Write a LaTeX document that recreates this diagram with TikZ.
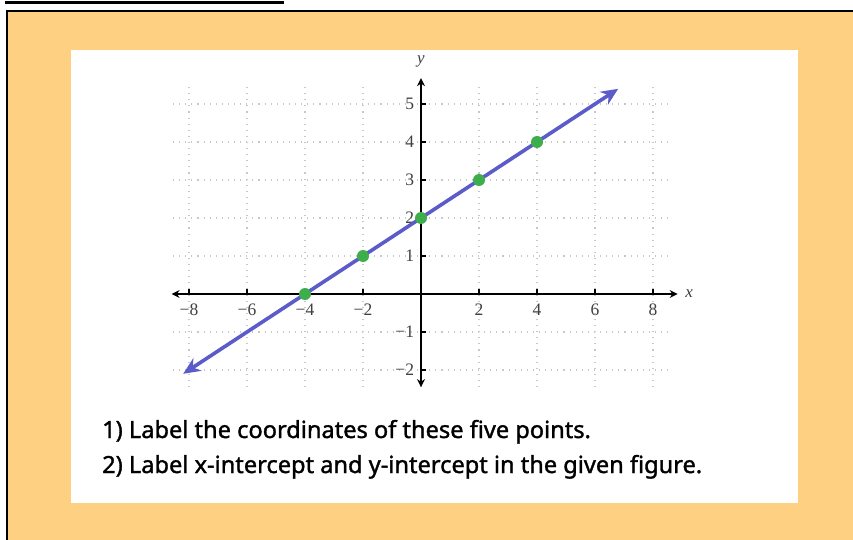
\documentclass[tikz,border=0pt]{standalone}
\usepackage{fontspec}
\setmainfont{Liberation Serif}
\newfontfamily\notefont[FakeBold=1.4]{Noto Sans}
\usetikzlibrary{arrows.meta}

\definecolor{paper}{HTML}{FED182}
\definecolor{lineblue}{HTML}{5B5BC9}
\definecolor{dotgreen}{HTML}{3EAE4C}
\definecolor{gridgray}{HTML}{C8C8C8}

\tikzset{
  gridline/.style={gridgray, line width=1.1pt, dash pattern=on 1.1pt off 5pt},
  axisline/.style={line width=1.8pt, {Stealth[length=8pt,width=8pt]}-{Stealth[length=8pt,width=8pt]}},
  tickmark/.style={line width=1.5pt},
  ticklabel/.style={font=\fontsize{17.5}{17.5}\selectfont, text=black!75, inner sep=1pt},
  axislabel/.style={font=\fontsize{17}{17}\selectfont\itshape, text=black!75, inner sep=1pt},
  graphline/.style={lineblue, line width=3.6pt, {Stealth[length=17pt,width=15pt]}-{Stealth[length=17pt,width=15pt]}},
  gpoint/.style={circle, fill=dotgreen, inner sep=0pt, minimum size=12pt},
  task/.style={font=\notefont\fontsize{23.6}{23.6}\selectfont, anchor=base west, inner sep=0pt},
}

\begin{document}
\begin{tikzpicture}[x=1pt,y=1pt]
  \useasboundingbox (0,0) rectangle (853,539);
  \clip (0,0) rectangle (853,539);

  % Frame and card.
  \fill[paper] (7,-5) rectangle (860,528);
  \draw[line width=2pt] (7,-5) -- (7,528) -- (860,528);
  \draw[line width=3pt] (5,536.5) -- (284,536.5);
  \fill[white] (71,36) rectangle (798,489);

  \begin{scope}[shift={(421,245)}, x=29pt, y=38pt]
    % Grid.
    \foreach \g in {-8,-6,...,8}
      \draw[gridline] (\g,-2.45) -- (\g,5.55);
    \foreach \g in {-2,...,5}
      \draw[gridline] (-8.55,\g) -- (8.6,\g);

    % Axes.
    \coordinate (xleft) at (-8.6,0);
    \coordinate (xright) at (8.85,0);
    \coordinate (ybottom) at (0,-2.45);
    \coordinate (ytop) at (0,5.68);
    \draw[axisline] (xleft) -- (xright);
    \draw[axisline] (ybottom) -- (ytop);
    \node[axislabel] (xlab) at (9.25,0) {x};
    \node[axislabel] (ylab) at (0,6.12) {y};

    % Ticks and labels.
    \foreach \t/\s in {-8/−8,-6/−6,-4/−4,-2/−2,2/2,4/4,6/6,8/8} {
      \draw[tickmark] (\t,0) -- (\t,0.12);
      \node[ticklabel] (xt\t) at (\t,-0.42) {\s};
    }
    \foreach \t/\s in {-2/−2,-1/−1,1/1,2/2,3/3,4/4,5/5} {
      \draw[tickmark] (0,\t) -- (0.18,\t);
      \node[ticklabel, anchor=east] (yt\t) at (-0.2,\t) {\s};
    }

    % Line y = x/2 + 2 and its points.
    \coordinate (lstart) at (-8.2,-2.1);
    \coordinate (lend) at (6.8,5.4);
    \draw[graphline] (lstart) -- (lend);
    \node[gpoint] (pa) at (-4,0) {};
    \node[gpoint] (pb) at (-2,1) {};
    \node[gpoint] (pc) at (0,2) {};
    \node[gpoint] (pd) at (2,3) {};
    \node[gpoint] (pe) at (4,4) {};
  \end{scope}

  % Tasks.
  \node[task] (taskone) at (102,101) {1) Label the coordinates of these five points.};
  \node[task] (tasktwo) at (102,66) {2) Label x-intercept and y-intercept in the given figure.};
\end{tikzpicture}
\end{document}
